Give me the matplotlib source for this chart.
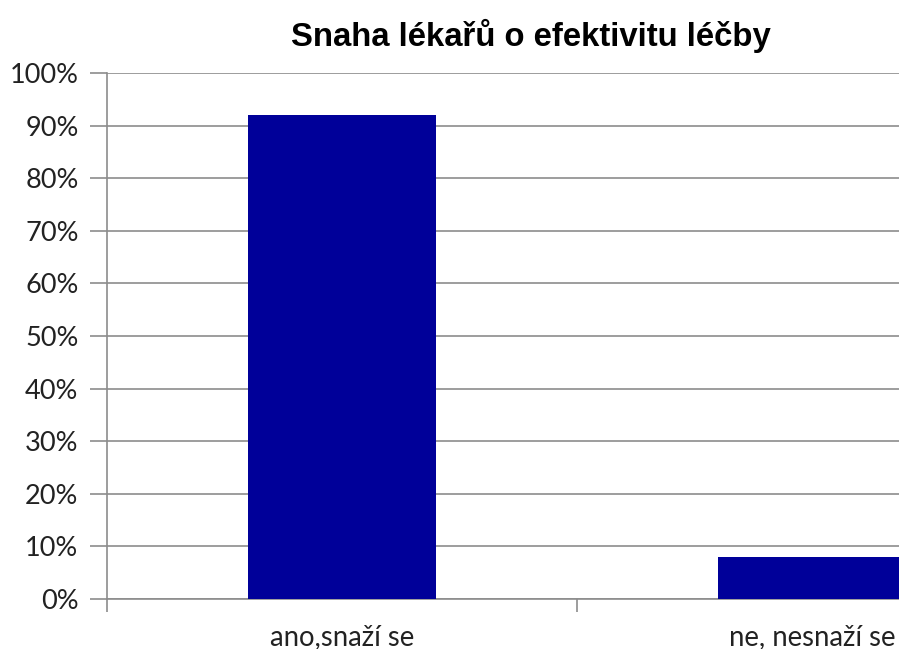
import matplotlib.pyplot as plt
from matplotlib.ticker import PercentFormatter

# Survey answers and their shares
categories = ["ano,snaží se", "ne, nesnaží se"]
shares = [0.92, 0.08]
y_ticks = [0, 0.1, 0.2, 0.3, 0.4, 0.5, 0.6, 0.7, 0.8, 0.9, 1.0]

plt.rcParams["font.family"] = ["Lato", "DejaVu Sans"]

fig = plt.figure(figsize=(8.99, 6.49), dpi=100)
# plot area runs past the right edge of the figure
ax = fig.add_axes([0.119, 0.077, 1.0456, 0.8105])

x = range(len(categories))
ax.bar(x, shares, width=0.4, color="#000099", zorder=3)

ax.set_xlim(-0.5, len(categories) - 0.5)
ax.set_ylim(0, 1)
ax.set_yticks(y_ticks)
ax.yaxis.set_major_formatter(PercentFormatter(1.0, decimals=0))
ax.yaxis.grid(True, color="#8c8c8c", linewidth=1.2, zorder=0)

ax.set_xticks(list(x))
ax.set_xticklabels(categories)
ax.set_xticks([-0.5, 0.5, 1.5], minor=True)
ax.tick_params(axis="x", which="major", length=0, pad=18, labelsize=19.8, colors="#222222")
ax.tick_params(axis="x", which="minor", length=9, width=1.2, color="#8c8c8c")
ax.tick_params(axis="y", length=12, width=1.2, color="#8c8c8c", pad=8.5, labelsize=19.5, labelcolor="#222222")

for side in ["top", "right"]:
    ax.spines[side].set_visible(False)
for side in ["left", "bottom"]:
    ax.spines[side].set_color("#8c8c8c")
    ax.spines[side].set_linewidth(1.2)

fig.text(0.5907, 0.945, "Snaha lékařů o efektivitu léčby", ha="center", va="center",
         fontsize=23.7, fontweight="bold", family=["Liberation Sans", "DejaVu Sans"])

fig.savefig("out.png", dpi=100)
